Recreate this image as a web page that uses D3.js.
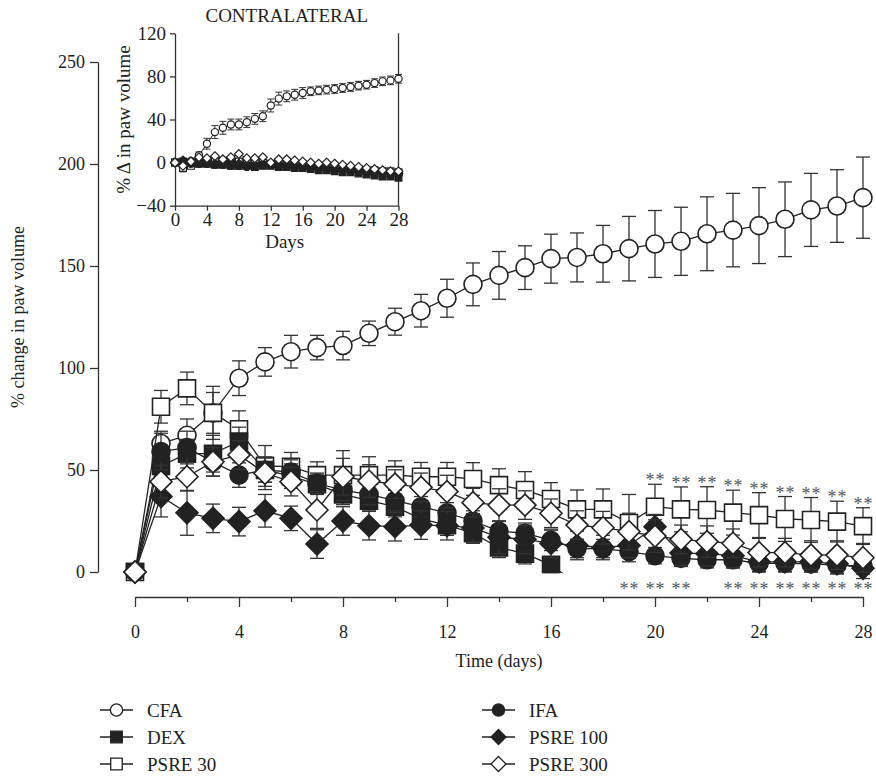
<!DOCTYPE html>
<html>
<head>
<meta charset="utf-8">
<script src="https://cdn.jsdelivr.net/npm/d3@7"></script>
<style>
  body { margin: 0; background: #fff; }
  svg { display: block; font-family: "Liberation Serif", "Times New Roman", serif; }
</style>
</head>
<body>
<div id="chart"></div>
<script>
// days 0..28
const days = [0,1,2,3,4,5,6,7,8,9,10,11,12,13,14,15,16,17,18,19,20,21,22,23,24,25,26,27,28]

// main panel: % change in paw volume (ipsilateral)
const cfa = [0,63,67,78,95,103,108,110,111,117,122.7,128.1,134.2,141,145.4,149.2,153.6,154.2,156,158.5,160.8,162.1,165.8,167.6,169.8,172.9,177.5,179.4,183.5]
const cfaErr = [0,6,8,10,8.5,7,8,6,7,6,6.6,8,9.3,10.5,11.7,10.7,12,12,13.9,15.8,16.4,16.7,18.1,18,18.6,18.3,17.9,17.8,19.9]
const psre30 = [0,81,90,78,70,52,51.6,47.5,47.5,47.5,47.5,46.7,46.7,45.6,42.6,40.2,35.8,30.7,30.7,24,32,30.7,30.4,29.1,27.9,26,25.5,24.7,22.5]
const psre30Err = [0,8,8,13,9,10,7,6.5,12,9,7,7,7,8,8,9,8,9.5,10,14,11,11,11.4,11,11,11,11,10,9]
const dex = [0,52,58,58,64,50,47,43,38,35,32,26,23,19,12,9,3.5,-6]
const dexErr = [0,8,7,9,7,6,6,5,5,5,5,5,5,5,5,5,4,4]
const ifa = [0,59,61,54,47.5,50,49,43.5,40,38,35,32,29,25,20,19,15.5,11.5,11.5,10,8,6.7,6,6,4.2,4.2,4,3.4,3]
const ifaErr = [0,9,8,7,6,6,6,5,5,5,5,5,5,5,5,5,5,4.5,4.5,5,4,4,4,4,4,4,4,4,4]
const psre100 = [0,37,29,26.3,24.7,30,26.3,13.7,25,22.7,22.2,23,22.7,21.6,17,16,14,13,12,13,22.2,9.3,9,8,5,5,5,4,1.8]
const psre100Err = [0,10,11,7,7,8,6,7,7,7,7,7,7,7,8,7,7,7,6,6,6,6,6,6,5,5,5,5,5]
const psre300 = [0,44.3,46.7,54,57.4,48.4,44.3,30.4,46.7,44.6,43.1,41.5,39.4,34,32.8,32.8,28.8,23,21.7,19.8,17.6,16,14.9,14.1,9.5,9.5,8.3,8.3,7]
const psre300Err = [0,8,7,7,7,8,7,9,9,8,7,7,8,7,8,7,7,7,8,9,8,7,7.7,7,7,7,7,7,7]

// significance marks (days)
const starsUpperDays = [20,21,22,23,24,25,26,27,28]
const starsLowerDays = [19,20,21,23,24,25,26,27,28]

// inset: contralateral paw
const inCfa = [0,-4.6,1.5,6.8,17.5,28.3,32.3,35.4,35.4,37.5,40.6,43,53,59.4,61.5,63,64.6,66.2,67,67.7,68.3,69.2,70.2,71.4,72.3,73.8,75.4,76.3,77.8]
const inCfaErr = [0,4,2,3,5,6,6,5,5,5,5,5,6,6,5,5,5,4,4,4,4,4,4,4,4,4,4,4,4]
const inPsre30 = [0,-5,-3,0,1,2,1,2,1,0,1,0,-1,-1,-2,-2,-3,-3,-4,-4,-5,-5,-6,-6,-7,-7,-8,-8,-9]
const inDex = [0,1,0,-1,-1,-2,-2,-3,-3,-3,-4,-3,-3,-4,-4,-5,-5,-6,-7,-7,-8,-9,-9,-10,-11,-12,-13,-13,-14]
const inIfa = [0,0,-1,-1,-1,-2,-2,-3,-3,-4,-3,-2,-2,-2,-3,-3,-4,-4,-5,-5,-6,-6,-7,-7,-8,-9,-9,-10,-11]
const inPsre100 = [0,2,1,0,0,-1,0,1,-1,-2,-2,-1,-1,-2,-2,-3,-3,-4,-4,-5,-5,-6,-6,-7,-7,-8,-8,-9,-10]
const inPsre300 = [0,-3,1,5,4,6,3,5,8,4,4,5,0,3,3,2,1,0,-1,0,-1,-2,-3,-4,-5,-6,-7,-8,-8]

const INK = '#222'

function shapePath(kind, s) {
  if (kind === 'circle') return `M${s},0A${s},${s} 0 1,1 ${-s},0A${s},${s} 0 1,1 ${s},0Z`
  if (kind === 'square') return `M${-s},${-s}H${s}V${s}H${-s}Z`
  return `M0,${-s}L${s},0L0,${s}L${-s},0Z`
}

const mainSeries = [
  { name: 'CFA', values: cfa, err: cfaErr, shape: 'circle', fill: '#fff', size: 9 },
  { name: 'PSRE 30', values: psre30, err: psre30Err, shape: 'square', fill: '#fff', size: 8.5 },
  { name: 'DEX', values: dex, err: dexErr, shape: 'square', fill: INK, size: 8.5, clip: true },
  { name: 'IFA', values: ifa, err: ifaErr, shape: 'circle', fill: INK, size: 9 },
  { name: 'PSRE 100', values: psre100, err: psre100Err, shape: 'diamond', fill: INK, size: 11 },
  { name: 'PSRE 300', values: psre300, err: psre300Err, shape: 'diamond', fill: '#fff', size: 11 },
]

const W = 876, H = 778
const svg = d3.select('#chart').append('svg').attr('width', W).attr('height', H)

const x = d3.scaleLinear().domain([0, 28]).range([135, 863])
const y = d3.scaleLinear().domain([0, 250]).range([572, 62])

// DEX drops below zero after day 16 and is cut off at the baseline
svg.append('clipPath').attr('id', 'dexclip')
  .append('rect').attr('x', 0).attr('y', 0).attr('width', W).attr('height', y(-0.6))

// axes
const yAxisG = svg.append('g').attr('transform', 'translate(98,0)')
  .call(d3.axisLeft(y).tickValues([0, 50, 100, 150, 200, 250]).tickSize(8).tickSizeOuter(0).tickPadding(5))
const xAxisG = svg.append('g').attr('transform', 'translate(0,597)')
  .call(d3.axisBottom(x).tickValues(d3.range(0, 29, 2)).tickSizeOuter(0))
xAxisG.selectAll('.tick line').attr('y2', (d) => (d % 4 === 0 ? 10 : 5))
xAxisG.selectAll('.tick text')
  .text((d) => (d % 4 === 0 ? d : ''))
  .attr('y', 28)
for (const a of [yAxisG, xAxisG]) {
  a.attr('font-family', null).attr('font-size', 18)
  a.selectAll('path, line').attr('stroke', '#333').attr('stroke-width', 1.3)
  a.selectAll('text').attr('fill', INK)
}

svg.append('text')
  .attr('transform', `translate(24,${(y(0) + y(250)) / 2}) rotate(-90)`)
  .attr('text-anchor', 'middle').attr('font-size', 18).attr('fill', INK)
  .text('% change in paw volume')
svg.append('text')
  .attr('x', (x(0) + x(28)) / 2).attr('y', 667)
  .attr('text-anchor', 'middle').attr('font-size', 18).attr('fill', INK)
  .text('Time (days)')

// series
function drawSeries(parent, s, xs, ys, opts) {
  const g = parent.append('g')
  if (s.clip) g.attr('clip-path', 'url(#dexclip)')
  const rows = s.values.map((v, i) => ({ day: days[i], v, e: s.err ? s.err[i] : 0 }))
  g.selectAll('line.err').data(rows.filter((d) => d.e > 0)).join('line')
    .attr('class', 'err')
    .attr('x1', (d) => xs(d.day)).attr('x2', (d) => xs(d.day))
    .attr('y1', (d) => ys(d.v - d.e)).attr('y2', (d) => ys(d.v + d.e))
    .attr('stroke', '#333').attr('stroke-width', opts.sw)
  for (const sign of [1, -1]) {
    g.selectAll(`line.cap${sign}`).data(rows.filter((d) => d.e > 0)).join('line')
      .attr('class', `cap${sign}`)
      .attr('x1', (d) => xs(d.day) - opts.cap).attr('x2', (d) => xs(d.day) + opts.cap)
      .attr('y1', (d) => ys(d.v + sign * d.e)).attr('y2', (d) => ys(d.v + sign * d.e))
      .attr('stroke', '#333').attr('stroke-width', opts.sw)
  }
  g.append('path').datum(rows)
    .attr('d', d3.line().x((d) => xs(d.day)).y((d) => ys(d.v)))
    .attr('fill', 'none').attr('stroke', INK).attr('stroke-width', opts.sw)
  g.selectAll('path.mk').data(rows).join('path')
    .attr('class', 'mk')
    .attr('transform', (d) => `translate(${xs(d.day)},${ys(d.v)})`)
    .attr('d', shapePath(s.shape, s.size * opts.scale))
    .attr('fill', s.fill).attr('stroke', INK).attr('stroke-width', opts.msw)
}

const plotG = svg.append('g')
for (const s of mainSeries) drawSeries(plotG, s, x, y, { sw: 1.3, msw: 1.6, cap: 7, scale: 1 })

// significance asterisks
const starsG = svg.append('g').attr('font-size', 18).attr('fill', '#555').attr('text-anchor', 'middle')
for (const d of starsUpperDays) {
  const cy = y(psre30[d] + psre30Err[d]) - 8
  for (const off of [-5, 5]) starsG.append('text').attr('x', x(d) + off).attr('y', cy + 10).text('*')
}
for (const d of starsLowerDays) {
  const cy = y(-7)
  for (const off of [-5, 5]) starsG.append('text').attr('x', x(d) + off).attr('y', cy + 9).text('*')
}

// inset
const xi = d3.scaleLinear().domain([0, 28]).range([175, 398.5])
const yi = d3.scaleLinear().domain([-40, 120]).range([205.7, 33.3])
const insetG = svg.append('g')
const yiAxis = insetG.append('g').attr('transform', `translate(${xi(0)},0)`)
  .call(d3.axisLeft(yi).tickValues([-40, 0, 40, 80, 120]).tickSize(5).tickSizeOuter(0).tickPadding(4))
const xiAxis = insetG.append('g').attr('transform', `translate(0,${yi(-40)})`)
  .call(d3.axisBottom(xi).tickValues([0, 4, 8, 12, 16, 20, 24, 28]).tickSize(5).tickSizeOuter(0).tickPadding(2))
for (const a of [yiAxis, xiAxis]) {
  a.attr('font-family', null).attr('font-size', 19)
  a.selectAll('path, line').attr('stroke', '#333').attr('stroke-width', 1.3)
  a.selectAll('text').attr('fill', INK)
}
insetG.append('line')
  .attr('x1', xi(28)).attr('x2', xi(28)).attr('y1', yi(-40)).attr('y2', yi(120))
  .attr('stroke', '#333').attr('stroke-width', 1.3)
insetG.append('text').attr('x', (xi(0) + xi(28)) / 2).attr('y', 22)
  .attr('text-anchor', 'middle').attr('font-size', 19).attr('fill', INK)
  .text('CONTRALATERAL')
insetG.append('text').attr('x', (xi(0) + xi(28)) / 2 - 2).attr('y', 248)
  .attr('text-anchor', 'middle').attr('font-size', 19).attr('fill', INK)
  .text('Days')
insetG.append('text')
  .attr('transform', `translate(130,${(yi(-40) + yi(120)) / 2}) rotate(-90)`)
  .attr('text-anchor', 'middle').attr('font-size', 19).attr('fill', INK)
  .text('% Δ in paw volume')

const insetSeries = [
  { values: inCfa, err: inCfaErr, shape: 'circle', fill: '#fff', size: 9 },
  { values: inPsre30, shape: 'square', fill: '#fff', size: 8.5 },
  { values: inDex, shape: 'square', fill: INK, size: 8.5 },
  { values: inIfa, shape: 'circle', fill: INK, size: 9 },
  { values: inPsre100, shape: 'diamond', fill: INK, size: 11 },
  { values: inPsre300, shape: 'diamond', fill: '#fff', size: 11 },
]
for (const s of insetSeries) drawSeries(insetG, s, xi, yi, { sw: 1, msw: 1.2, cap: 3.5, scale: 0.4 })

// legend
const legendRows = [
  { s: mainSeries[0], col: 0, row: 0 },
  { s: mainSeries[2], col: 0, row: 1 },
  { s: mainSeries[1], col: 0, row: 2 },
  { s: mainSeries[3], col: 1, row: 0 },
  { s: mainSeries[4], col: 1, row: 1 },
  { s: mainSeries[5], col: 1, row: 2 },
]
const legendG = svg.append('g')
const colX = [100, 482]
legendRows.forEach(({ s, col, row }) => {
  const lx = colX[col], ly = 710 + row * 27
  const item = legendG.append('g').attr('transform', `translate(${lx},${ly})`)
  item.append('line').attr('x1', 0).attr('x2', 33).attr('y1', 0).attr('y2', 0)
    .attr('stroke', INK).attr('stroke-width', 1.3)
  item.append('path').attr('transform', 'translate(16.5,0)')
    .attr('d', shapePath(s.shape, s.size * 0.68))
    .attr('fill', s.fill).attr('stroke', INK).attr('stroke-width', 1.3)
  item.append('text').attr('x', 47).attr('y', 6.5)
    .attr('font-size', 19).attr('fill', INK).text(s.name)
})
</script>
</body>
</html>
